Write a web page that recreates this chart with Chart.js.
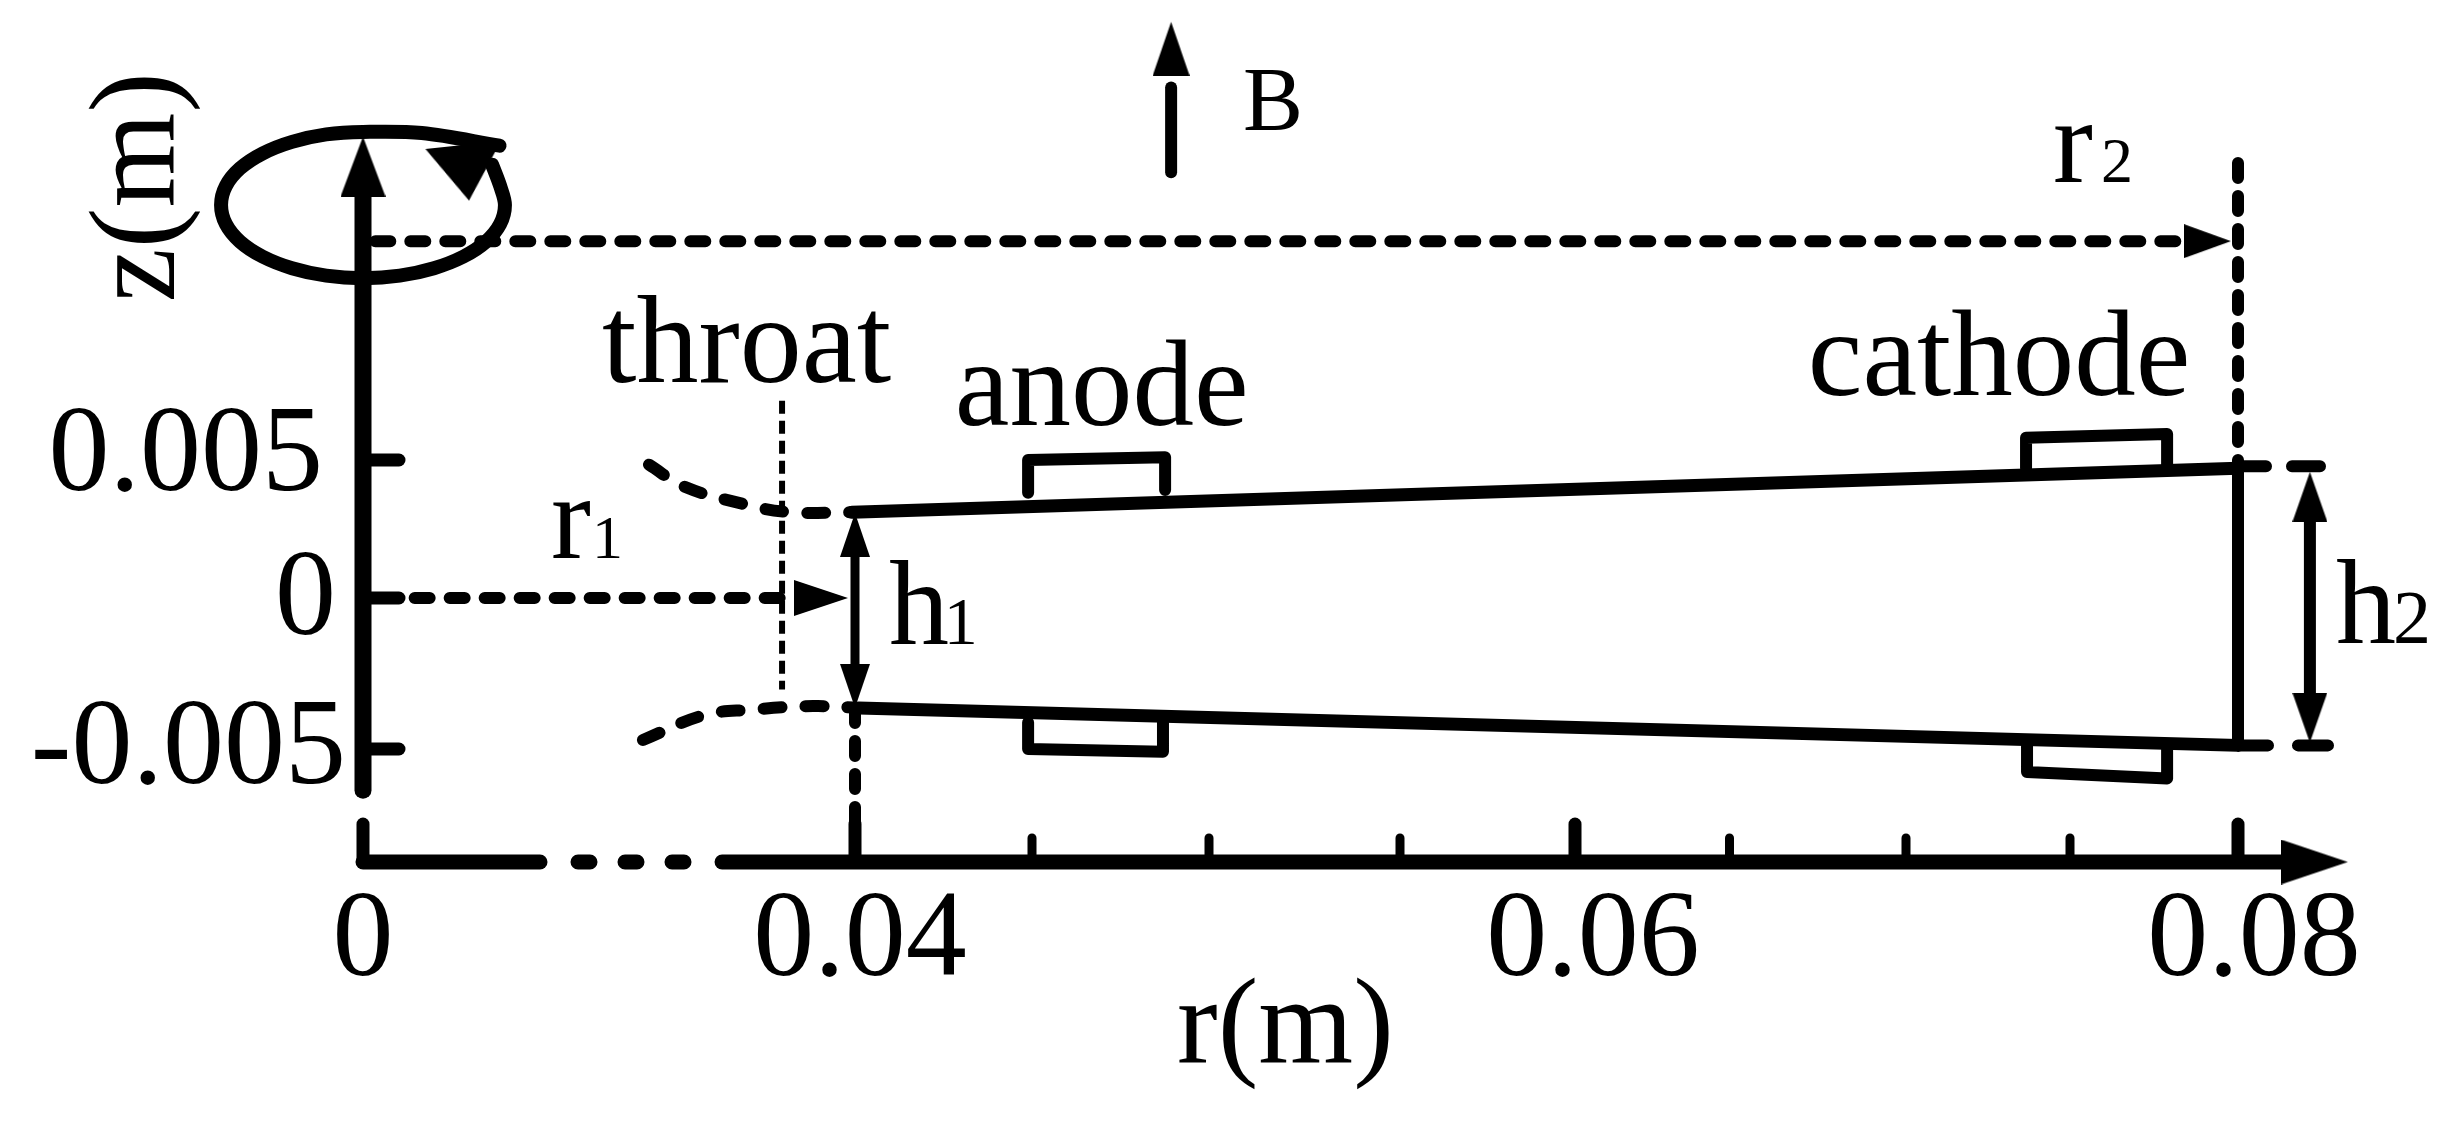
<!DOCTYPE html>
<html>
<head>
<meta charset="utf-8">
<style>html,body{margin:0;padding:0;background:#fff}#wrap{width:2453px;height:1121px}canvas{display:block}</style>
<script src="https://cdn.jsdelivr.net/npm/chart.js@4/dist/chart.umd.js"></script>
</head>
<body>
<div id="wrap"><canvas id="c" width="2453" height="1121"></canvas></div>
<script>
// ---- axis ticks ----
const xTickValues = [0, 0.04, 0.045, 0.05, 0.055, 0.06, 0.065, 0.07, 0.075, 0.08];
const xTickLabels = ['0', '0.04', '', '', '', '0.06', '', '', '', '0.08'];
const yTickValues = [-0.005, 0, 0.005];
const yTickLabels = ['-0.005', '0', '0.005'];

// ---- marks, as [r, z] in metres ----
const zAxisLine = [[0, -0.00636], [0, 0.0149]];
const rAxisLeft = [[0, -0.00873], [0.01439, -0.00873]];
const rAxisBreak = [[0.01748, -0.00873], [0.02618, -0.00873]];
const rAxisRight = [[0.02919, -0.00873], [0.08155, -0.00873]];
const swirl = [[0.0111, 0.01639], [0.00478, 0.01685], [0, 0.01689], [-0.00299, 0.0168], [-0.00577, 0.01653], [-0.00816, 0.01611],
  [-0.00999, 0.01557], [-0.01115, 0.01493], [-0.01154, 0.01424], [-0.01115, 0.01355], [-0.00999, 0.01291], [-0.00816, 0.01237],
  [-0.00577, 0.01195], [-0.00299, 0.01168], [0, 0.01159], [0.00299, 0.01168], [0.00577, 0.01195], [0.00816, 0.01237],
  [0.00999, 0.01291], [0.01115, 0.01355], [0.01154, 0.01424], [0.01115, 0.01493], [0.0105, 0.0157]];
const r2Guide = [[0.001, 0.01293], [0.0786, 0.01293]];
const r1Guide = [[0.0042, 0], [0.0344, 0]];
const r2Drop = [[0.08, 0.01576], [0.08, 0.0048]];
const r1Drop = [[0.04, -0.00364], [0.04, -0.00739]];
const throatLine = [[0.03407, 0.00715], [0.03407, -0.00303]];
const upperThroat = [[0.02325, 0.00483], [0.0261, 0.00404], [0.0309, 0.00341], [0.0347, 0.00311], [0.03976, 0.00311]];
const lowerThroat = [[0.02276, -0.0047], [0.02772, -0.00388], [0.03154, -0.0037], [0.03659, -0.00358], [0.0401, -0.00364]];
const upperWall = [[0.03976, 0.00311], [0.08, 0.0047]];
const lowerWall = [[0.0401, -0.00364], [0.08, -0.00488]];
const exitPlane = [[0.08, 0.0047], [0.08, -0.00488]];
const upperExitGuide = [[0.08, 0.00477], [0.0825, 0.00477]];
const lowerExitGuide = [[0.08, -0.00488], [0.08268, -0.00488]];
const h1Span = [[0.04, 0.002], [0.04, -0.0025]];
const h2Span = [[0.08214, 0.0035], [0.08214, -0.0037]];
const bField = [[0.04893, 0.01543], [0.04893, 0.0185]];
const anodeTop = [[0.04489, 0.00381], [0.04489, 0.005], [0.04876, 0.0051], [0.04876, 0.00391]];
const anodeBottom = [[0.04489, -0.00412], [0.04489, -0.005], [0.0487, -0.00509], [0.0487, -0.00412]];
const cathodeTop = [[0.07366, 0.0047], [0.07366, 0.00581], [0.07789, 0.00594], [0.07789, 0.00483]];
const cathodeBottom = [[0.07369, -0.00482], [0.07369, -0.00576], [0.07789, -0.00597], [0.07789, -0.00494]];

// ---- arrow tips, as [r, z] ----
const zAxisTip = [0, 0.01672];
const rAxisTip = [0.08327, -0.00873];
const swirlTip = [0.00862, 0.0144];
const r2Tip = [0.07979, 0.01293];
const r1Tip = [0.03943, 0];
const h1TopTip = [0.04, 0.00308];
const h1BottomTip = [0.04, -0.00364];
const h2TopTip = [0.08214, 0.00457];
const h2BottomTip = [0.08214, -0.00479];
const bTip = [0.04893, 0.02088];

// ---- annotation text, as [text, r, z, font size] ----
const annotations = [
  ['throat', 0.01943, 0.00781, 124],
  ['anode', 0.04282, 0.00627, 123],
  ['cathode', 0.06722, 0.00736, 123],
  ['B', 0.05089, 0.01696, 90],
  ['r', 0.01528, 0.00145, 120],
  ['1', 0.01862, 0.00145, 62],
  ['h', 0.04096, -0.00151, 120],
  ['1', 0.04251, -0.00151, 68],
  ['r', 0.07448, 0.01507, 120],
  ['2', 0.07592, 0.01507, 64],
  ['h', 0.08292, -0.00149, 120],
  ['2', 0.08461, -0.00149, 76]
];

const SERIF = '"Liberation Serif"';

class PiecewiseScale extends Chart.LinearScale {
  static id = 'piecewise';
  static defaults = {};
  getPixelForValue(v) {
    const k = this.options.knots;
    let i = 0;
    while (i < k.length - 2 && v > k[i + 1][0]) i++;
    const [a, pa] = k[i], [b, pb] = k[i + 1];
    return pa + (v - a) / (b - a) * (pb - pa);
  }
  getPadding() {
    return { left: 0, top: 0, right: 0, bottom: 0 };
  }
  buildTicks() {
    return this.options.tickValues.map(value => ({ value }));
  }
  _computeLabelItems(area) {
    const items = super._computeLabelItems(area);
    const shift = this.options.labelShift || {};
    items.forEach(it => {
      const s = shift[it.label];
      if (s) { it.options.translation[0] += s[0]; it.options.translation[1] += s[1]; }
    });
    return items;
  }
}
Chart.register(PiecewiseScale);

const xy = pts => pts.map(p => ({ x: p[0], y: p[1] }));
function line(name, pts, width, extra) {
  return Object.assign({ label: name, data: xy(pts), borderColor: '#000', borderWidth: width, pointRadius: 0,
    borderCapStyle: 'round', borderJoinStyle: 'round', fill: false, clip: false, tension: 0 }, extra || {});
}
const DASH = { borderDash: [15, 20] };
function headCanvas(w, l) {
  const c = document.createElement('canvas');
  c.width = Math.ceil(w); c.height = Math.ceil(l * 2);
  const g = c.getContext('2d');
  g.fillStyle = '#000';
  g.beginPath(); g.moveTo(w / 2, l); g.lineTo(w, 2 * l); g.lineTo(0, 2 * l); g.closePath(); g.fill();
  return c;
}
function head(name, tip, w, l, rot) {
  return { label: name, data: xy([tip]), showLine: false, clip: false, pointStyle: headCanvas(w, l),
    pointRotation: rot, pointRadius: 800, pointBorderWidth: 0, pointBackgroundColor: '#000' };
}

const datasets = [
  line('z axis', zAxisLine, 17),
  line('r axis left', rAxisLeft, 15),
  line('r axis break', rAxisBreak, 15, { borderDash: [12, 35] }),
  line('r axis right', rAxisRight, 15),
  line('swirl', swirl, 14, { tension: 0.34 }),
  line('r2 guide', r2Guide, 12, DASH),
  line('r1 guide', r1Guide, 12, DASH),
  line('r2 drop', r2Drop, 12, { borderDash: [15, 18] }),
  line('r1 drop', r1Drop, 12, { borderDash: [15, 18] }),
  line('throat', throatLine, 6, { borderDash: [13, 7], borderCapStyle: 'butt' }),
  line('upper throat', upperThroat, 12, { tension: 0.4, borderDash: [18, 24] }),
  line('lower throat', lowerThroat, 12, { tension: 0.4, borderDash: [18, 24] }),
  line('upper wall', upperWall, 13),
  line('lower wall', lowerWall, 13),
  line('exit plane', exitPlane, 12),
  line('upper exit guide', upperExitGuide, 12, { borderDash: [28, 26] }),
  line('lower exit guide', lowerExitGuide, 12, { borderDash: [30, 30] }),
  line('h1', h1Span, 9),
  line('h2', h2Span, 12),
  line('B', bField, 12),
  line('anode top', anodeTop, 12),
  line('anode bottom', anodeBottom, 12),
  line('cathode top', cathodeTop, 12),
  line('cathode bottom', cathodeBottom, 12),
  head('z tip', zAxisTip, 45, 60, 0),
  head('r tip', rAxisTip, 45, 67, 90),
  head('swirl tip', swirlTip, 76, 56, 174),
  head('r2 tip', r2Tip, 34, 47, 90),
  head('r1 tip', r1Tip, 36, 54, 90),
  head('h1 top', h1TopTip, 30, 44, 0),
  head('h1 bottom', h1BottomTip, 30, 44, 180),
  head('h2 top', h2TopTip, 35, 50, 0),
  head('h2 bottom', h2BottomTip, 35, 50, 180),
  head('B tip', bTip, 37, 54, 0)
];

const tickMarks = {
  id: 'tickMarks',
  afterDatasetsDraw(chart) {
    const { ctx, scales: { x, y } } = chart;
    ctx.save();
    ctx.strokeStyle = '#000';
    ctx.lineCap = 'round';
    const x0 = x.getPixelForValue(0), y0 = y.getPixelForValue(rAxisLeft[0][1]);
    x.ticks.forEach(t => {
      const px = x.getPixelForValue(t.value), major = t.label !== '';
      ctx.lineWidth = major ? 13 : 9;
      ctx.beginPath(); ctx.moveTo(px, y0); ctx.lineTo(px, y0 - (major ? 38 : 24)); ctx.stroke();
    });
    y.ticks.forEach(t => {
      const py = y.getPixelForValue(t.value);
      ctx.lineWidth = 13;
      ctx.beginPath(); ctx.moveTo(x0, py); ctx.lineTo(x0 + 36, py); ctx.stroke();
    });
    ctx.restore();
  }
};
const annotationText = {
  id: 'annotationText',
  afterDatasetsDraw(chart) {
    const { ctx, scales: { x, y } } = chart;
    ctx.save();
    ctx.fillStyle = '#000';
    ctx.textAlign = 'left';
    ctx.textBaseline = 'alphabetic';
    annotations.forEach(([s, r, z, size]) => {
      ctx.font = size + 'px ' + SERIF;
      ctx.fillText(s, x.getPixelForValue(r), y.getPixelForValue(z));
    });
    ctx.restore();
  }
};

new Chart(document.getElementById('c'), {
  type: 'line',
  data: { datasets },
  plugins: [tickMarks, annotationText],
  options: {
    responsive: false,
    animation: false,
    devicePixelRatio: 1,
    events: [],
    layout: { autoPadding: false, padding: { top: 72, right: 245, left: 0, bottom: 0 } },
    plugins: { legend: { display: false }, tooltip: { enabled: false }, title: { display: false } },
    scales: {
      x: {
        type: 'piecewise',
        position: 'bottom',
        min: -0.03, max: 0.1,
        knots: [[0, 363], [0.04, 855], [0.045, 1032], [0.05, 1209], [0.055, 1400], [0.06, 1575], [0.065, 1729.5], [0.07, 1906], [0.075, 2070], [0.08, 2238]],
        tickValues: xTickValues,
        labelShift: { '0.04': [5, 0], '0.06': [18, 0], '0.08': [16, 0] },
        afterFit: s => { s.height = 259; },
        grid: { display: false, drawTicks: false },
        border: { display: false },
        ticks: {
          autoSkip: false, maxRotation: 0, minRotation: 0, padding: 20, color: '#000',
          font: { family: SERIF, size: 122, lineHeight: 1 },
          callback: v => xTickLabels[xTickValues.indexOf(v)]
        },
        title: { display: true, text: 'r(m)', color: '#000', padding: { top: 0, bottom: 29 },
          font: { family: SERIF, size: 122, lineHeight: 1 } }
      },
      y: {
        type: 'piecewise',
        position: 'left',
        min: -0.02, max: 0.03,
        knots: [[-0.00873, 862], [-0.005, 749], [0, 598], [0.005, 460], [0.02167, 0]],
        tickValues: yTickValues,
        labelShift: { '0.005': [-40, -2], '0': [-27, 4], '-0.005': [-17, 2] },
        afterFit: s => { s.width = 363; },
        grid: { display: false, drawTicks: false },
        border: { display: false },
        ticks: {
          autoSkip: false, padding: 0, color: '#000',
          font: { family: SERIF, size: 122, lineHeight: 1 },
          callback: v => yTickLabels[yTickValues.indexOf(v)]
        },
        title: { display: true, text: 'z(m)', color: '#000', align: 'end', padding: { top: 81, bottom: 0 },
          font: { family: SERIF, size: 122, lineHeight: 1 } }
      }
    }
  }
});
</script>
</body>
</html>
